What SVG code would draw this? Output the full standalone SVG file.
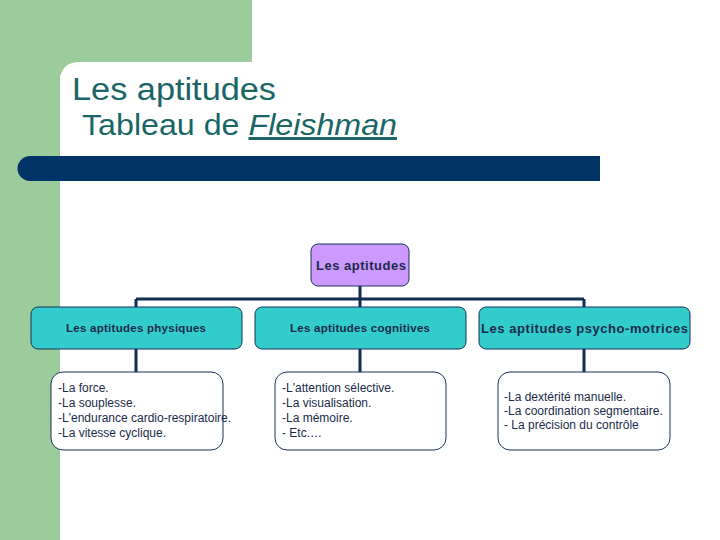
<svg xmlns="http://www.w3.org/2000/svg" width="720" height="540" viewBox="0 0 720 540">
<style>
.lvl2{fill:#33cccc;stroke:#1a3355;stroke-width:1}
.leaf{fill:#ffffff;stroke:#1a3355;stroke-width:1}
.conn{stroke:#0f2d50;stroke-width:3;fill:none}
.t2{font-family:"Liberation Sans",Arial,sans-serif;font-weight:bold;fill:#1a2b4a;text-anchor:middle}
.tl{font-family:"Liberation Sans",Arial,sans-serif;font-size:12px;fill:#1a2b4a}
.title{font-family:"Liberation Sans",Arial,sans-serif;fill:#1a6666}
</style>
<rect x="0" y="0" width="720" height="540" fill="#ffffff"/>
<rect x="0" y="0" width="252" height="75" fill="#9ccb9c"/>
<rect x="0" y="0" width="60" height="540" fill="#9ccb9c"/>
<path d="M60,540 V82 Q60,62 80,62 H252 V75 H720 V540 Z" fill="#ffffff"/>
<path d="M30,156 H600 V181 H30 A12.5,12.5 0 0 1 30,156 Z" fill="#003366"/>
<text class="title" x="72" y="100" font-size="31" textLength="204" lengthAdjust="spacingAndGlyphs">Les aptitudes</text>
<text class="title" x="82" y="135" font-size="30" textLength="315" lengthAdjust="spacingAndGlyphs">Tableau de <tspan font-style="italic" text-decoration="underline">Fleishman</tspan></text>
<g id="connectors">
<path class="conn" d="M360,286 V299 M136,299 H584 M136,299 V308 M360,299 V308 M584,299 V308"/>
<path class="conn" d="M136,349 V373 M360,349 V373 M584,349 V373"/>
</g>
<g id="root">
<rect x="311" y="244" width="98" height="42" rx="7" fill="#cc99ff" stroke="#1a3355"/>
<text class="t2" x="361" y="270" font-size="13" textLength="90" lengthAdjust="spacing">Les aptitudes</text>
</g>
<g id="physiques">
<rect class="lvl2" x="31" y="307" width="211" height="42" rx="7"/>
<text class="t2" x="136" y="332" font-size="11.5" textLength="140" lengthAdjust="spacing">Les aptitudes physiques</text>
</g>
<g id="cognitives">
<rect class="lvl2" x="255" y="307" width="211" height="42" rx="7"/>
<text class="t2" x="360" y="332" font-size="11.5" textLength="140" lengthAdjust="spacing">Les aptitudes cognitives</text>
</g>
<g id="psychomotrices">
<rect class="lvl2" x="479" y="307" width="211" height="42" rx="7"/>
<text class="t2" x="584.5" y="333" font-size="13" textLength="207" lengthAdjust="spacing">Les aptitudes psycho-motrices</text>
</g>
<g id="leaf-physiques">
<rect class="leaf" x="51" y="372" width="172" height="78" rx="12"/>
<text class="tl" x="58" y="392">-La force.</text>
<text class="tl" x="58" y="407">-La souplesse.</text>
<text class="tl" x="58" y="422">-L'endurance cardio-respiratoire.</text>
<text class="tl" x="58" y="437">-La vitesse cyclique.</text>
</g>
<g id="leaf-cognitives">
<rect class="leaf" x="275" y="372" width="171" height="78" rx="12"/>
<text class="tl" x="282" y="392">-L'attention sélective.</text>
<text class="tl" x="282" y="407">-La visualisation.</text>
<text class="tl" x="282" y="422">-La mémoire.</text>
<text class="tl" x="282" y="437">- Etc.…</text>
</g>
<g id="leaf-psychomotrices">
<rect class="leaf" x="498" y="372" width="172" height="78" rx="12"/>
<text class="tl" x="504" y="401">-La dextérité manuelle.</text>
<text class="tl" x="504" y="415">-La coordination segmentaire.</text>
<text class="tl" x="504" y="429">-  La précision du contrôle</text>
</g>
</svg>
